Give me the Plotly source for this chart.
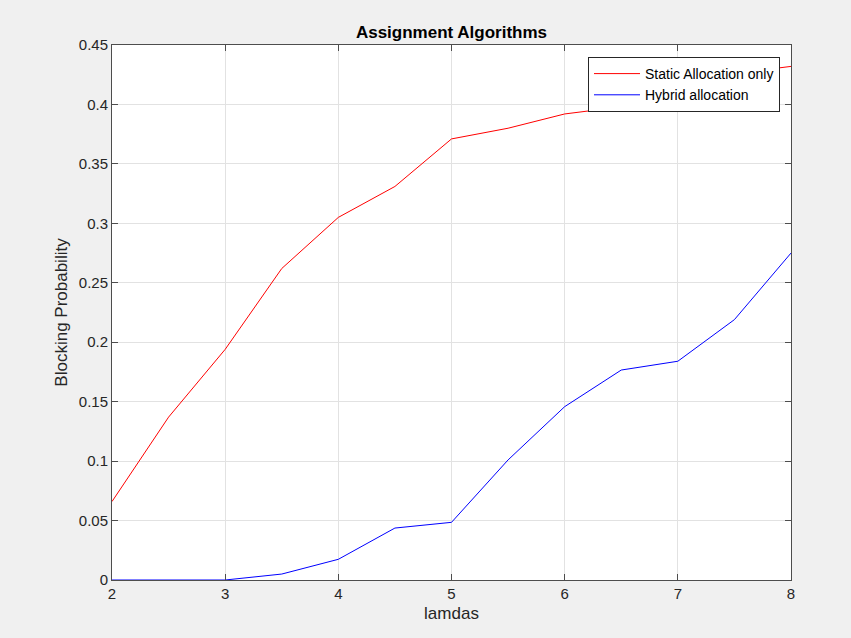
import plotly.graph_objects as go

lamdas = [2, 2.5, 3, 3.5, 4, 4.5, 5, 5.5, 6, 6.5, 7, 7.5, 8]
static_only = [0.066, 0.137, 0.194, 0.262, 0.305, 0.331, 0.371, 0.380, 0.392, 0.398, 0.395, 0.426, 0.432]
hybrid = [0.0, 0.0, 0.0, 0.005, 0.0174, 0.0437, 0.0485, 0.101, 0.1458, 0.1766, 0.184, 0.219, 0.275]

font_family = "Liberation Sans, Arial, Helvetica, sans-serif"

fig = go.Figure()
fig.add_trace(go.Scatter(x=lamdas, y=static_only, mode="lines", name="Static Allocation only",
                         line=dict(color="#ff0000", width=1)))
fig.add_trace(go.Scatter(x=lamdas, y=hybrid, mode="lines", name="Hybrid allocation",
                         line=dict(color="#0000ff", width=1)))

axis_common = dict(
    showgrid=True, gridcolor="#e2e2e2", gridwidth=1,
    showline=True, linecolor="#4d4d4d", linewidth=1, mirror="ticks",
    ticks="inside", ticklen=6, tickcolor="#4d4d4d",
    tickfont=dict(size=15, color="#262626", family=font_family),
    zeroline=False,
)

fig.update_layout(
    width=851, height=638,
    paper_bgcolor="#f0f0f0", plot_bgcolor="#ffffff",
    margin=dict(l=112, r=60, t=45, b=58),
    title=dict(text="<b>Assignment Algorithms</b>", x=(112 + 791) / 2 / 851, xanchor="center",
               y=1 - 32 / 638, yanchor="middle",
               font=dict(size=17, color="#000000", family=font_family)),
    xaxis=dict(range=[2, 8], dtick=1, tick0=2,
               title=dict(text="lamdas", standoff=6, font=dict(size=17, color="#262626", family=font_family)),
               **axis_common),
    yaxis=dict(range=[0, 0.45], dtick=0.05, tick0=0,
               title=dict(text="Blocking Probability", standoff=6, font=dict(size=17, color="#262626", family=font_family)),
               **axis_common),
    legend=dict(x=(780 - 112) / (791 - 112), y=1 - 12 / 535, xanchor="right", yanchor="top",
                bgcolor="#ffffff", bordercolor="#262626", borderwidth=1,
                font=dict(size=14, color="#000000", family=font_family),
                itemwidth=46, tracegroupgap=0),
    showlegend=True,
)

fig.write_html("out.html")
